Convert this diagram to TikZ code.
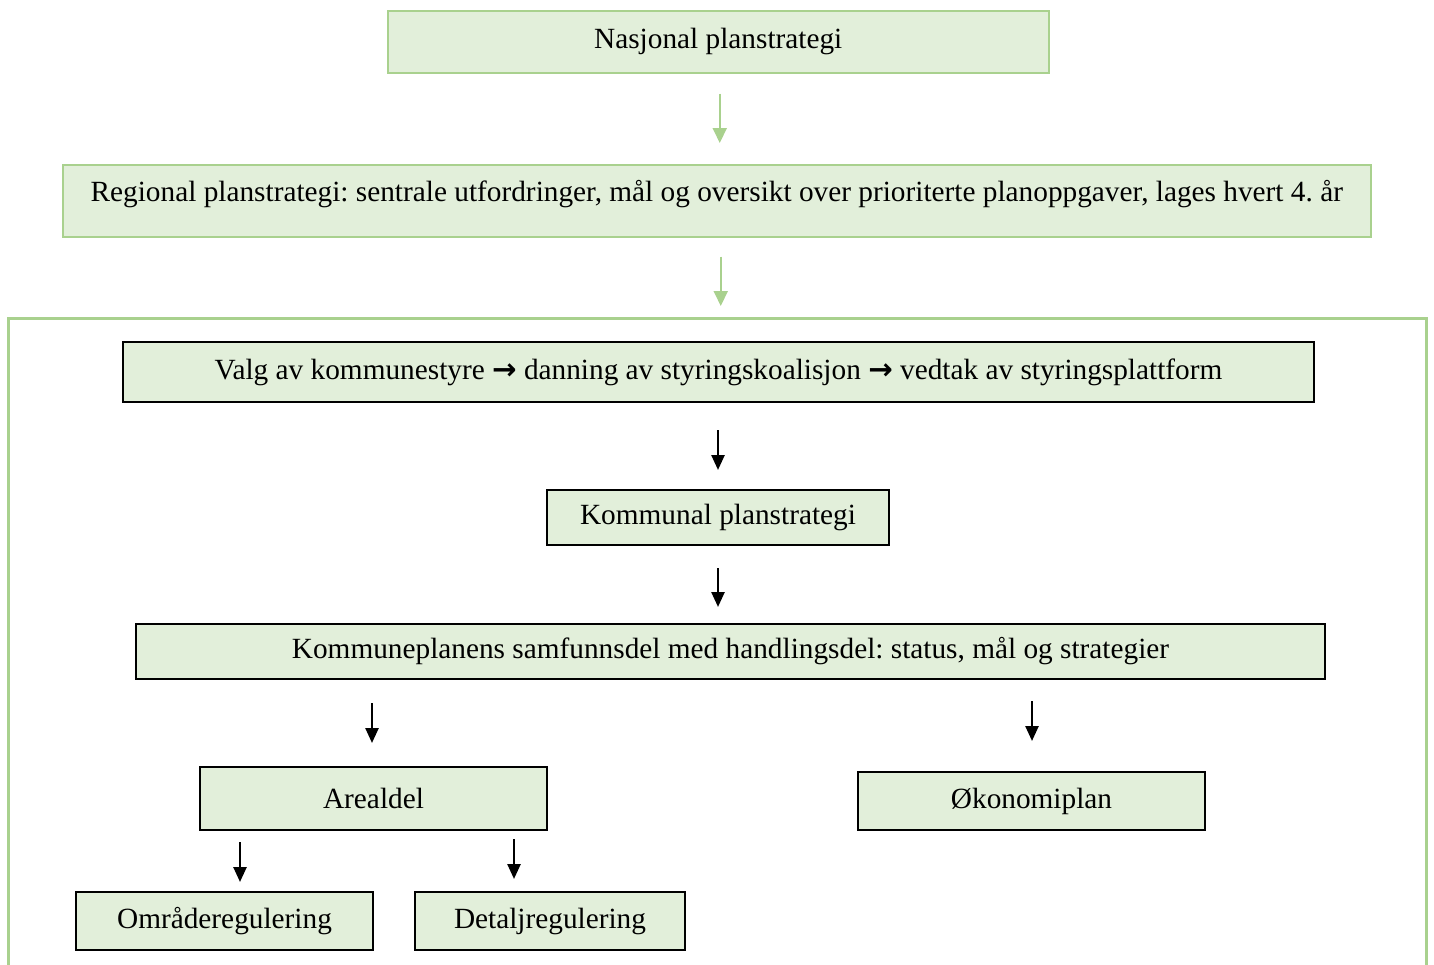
\documentclass[tikz,border=0pt]{standalone}
\usepackage{fontspec}
\setmainfont{Liberation Serif}
\newfontfamily\symfont{DejaVu Sans}
\usetikzlibrary{arrows.meta,calc}
\definecolor{boxfill}{HTML}{E2EFDA}
\definecolor{boxgreen}{HTML}{A9D18E}
\tikzset{
  lbl/.style={font=\fontsize{29.3}{33}\selectfont\frenchspacing, inner sep=0pt, align=center},
  greenbox/.style={lbl, draw=boxgreen, line width=1.5pt, fill=boxfill, anchor=north west},
  blackbox/.style={lbl, draw=black, line width=2pt, fill=boxfill, anchor=north west},
  greenarrow/.style={draw=boxgreen, line width=2pt, -{Triangle[width=14pt,length=15pt]}},
  blackarrow/.style={draw=black, line width=2.5pt, -{Triangle[width=13pt,length=15pt]}},
}
\newcommand{\ra}{{\symfont\bfseries →}}
\begin{document}
\begin{tikzpicture}[x=1pt,y=-1pt]
\useasboundingbox (0,0) rectangle (1434,964);
\clip (0,0) rectangle (1434,964);

% outer municipal frame, open at the bottom
\draw[boxgreen, line width=3pt] (8,970) -- (8,318) -- (1426,318) -- (1426,970);

% national and regional level
\node[greenbox, minimum width=661pt, minimum height=62pt] (nas) at (387,10) {Nasjonal planstrategi};
\node[greenbox, minimum width=1308pt, minimum height=72pt] (reg) at (62,164)
  {\raisebox{7pt}[\height][\depth]{Regional planstrategi: sentrale utfordringer, mål og oversikt over prioriterte planoppgaver, lages hvert 4. år}};

% municipal level
\node[blackbox, minimum width=1191pt, minimum height=60pt] (valg) at (122,341)
  {Valg av kommunestyre \ra{} danning av styringskoalisjon \ra{} vedtak av styringsplattform};
\node[blackbox, minimum width=342pt, minimum height=55pt] (kps) at (546,489) {Kommunal planstrategi};
\node[blackbox, minimum width=1189pt, minimum height=55pt] (ksd) at (135,623)
  {Kommuneplanens samfunnsdel med handlingsdel: status, mål og strategier};
\node[blackbox, minimum width=347pt, minimum height=63pt] (areal) at (199,766) {Arealdel};
\node[blackbox, minimum width=347pt, minimum height=58pt] (oko) at (857,771) {Økonomiplan};
\node[blackbox, minimum width=297pt, minimum height=58pt] (omr) at (75,891) {Områderegulering};
\node[blackbox, minimum width=270pt, minimum height=58pt] (det) at (414,891) {Detaljregulering};

% connectors
\draw[greenarrow, shorten <=20pt, shorten >=21pt] ([xshift=1.5pt]nas.south) -- ([xshift=1.5pt]nas.south |- reg.north);
\draw[greenarrow, shorten <=19pt, shorten >=12pt] ([xshift=4pt]reg.south) -- ([xshift=4pt]reg.south |- 0,318);
\draw[blackarrow, shorten <=27pt, shorten >=19pt] (kps.north |- valg.south) -- (kps.north);
\draw[blackarrow, shorten <=22pt, shorten >=16pt] (kps.south) -- (kps.south |- ksd.north);
\draw[blackarrow, shorten <=23pt, shorten >=23pt] ([xshift=-1.5pt]areal.north |- ksd.south) -- ([xshift=-1.5pt]areal.north);
\draw[blackarrow, shorten <=21pt, shorten >=30pt] ([xshift=0.5pt]oko.north |- ksd.south) -- ([xshift=0.5pt]oko.north);
\draw[blackarrow, shorten <=11pt, shorten >=9pt] ([xshift=15.5pt]omr.north |- areal.south) -- ([xshift=15.5pt]omr.north);
\draw[blackarrow, shorten <=8pt, shorten >=12pt] ([xshift=-36pt]det.north |- areal.south) -- ([xshift=-36pt]det.north);
\end{tikzpicture}
\end{document}
